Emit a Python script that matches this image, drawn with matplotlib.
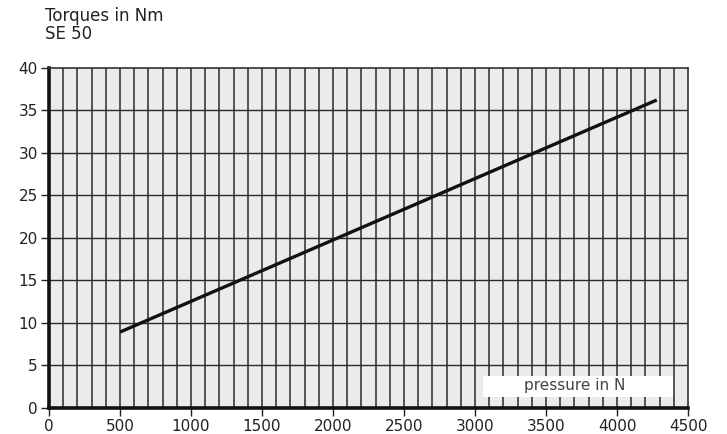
import matplotlib.pyplot as plt
from matplotlib.patches import Rectangle

# Torque vs. pressure, SE 50
pressure = [500, 4280]
torque = [8.9, 36.2]

x_ticks = list(range(0, 4501, 500))
y_ticks = list(range(0, 41, 5))

plt.rcParams['font.family'] = ['DejaVu Sans']

fig = plt.figure(figsize=(7.27, 4.34), dpi=100)
ax = fig.add_axes([0.0674, 0.0606, 0.879, 0.7834])
ax.set_facecolor('#ebebeb')

# fine vertical grid every 100 N, horizontal every 5 Nm
for xv in range(100, 4500, 100):
    ax.axvline(xv, color='#2a2a2a', lw=1.1, zorder=1)
for yv in range(5, 40, 5):
    ax.axhline(yv, color='#2a2a2a', lw=1.0, zorder=1)

ax.plot(pressure, torque, color='#111111', lw=2.4, solid_capstyle='butt', zorder=3)

ax.set_xlim(0, 4500)
ax.set_ylim(0, 40)
ax.set_xticks(x_ticks)
ax.set_yticks(y_ticks)
ax.tick_params(axis='both', labelsize=11, length=6, width=1, color='#222222',
               labelcolor='#222222', direction='out', pad=2)

for side in ['left', 'bottom']:
    ax.spines[side].set_linewidth(2.6)
    ax.spines[side].set_color('#111111')
for side in ['top', 'right']:
    ax.spines[side].set_linewidth(1.2)
    ax.spines[side].set_color('#333333')

# axis caption in a white box inside the plot
ax.add_patch(Rectangle((0.679, 0.031), 0.298, 0.062, transform=ax.transAxes,
                       facecolor='white', edgecolor='none', zorder=4))
ax.text(0.822, 0.064, 'pressure in N', transform=ax.transAxes, fontsize=11,
        color='#444444', ha='center', va='center', zorder=5)

fig.text(0.062, 0.90, 'Torques in Nm\nSE 50', fontsize=12, color='#222222',
         ha='left', va='bottom', linespacing=1.0)

plt.savefig('out.png', dpi=100)
